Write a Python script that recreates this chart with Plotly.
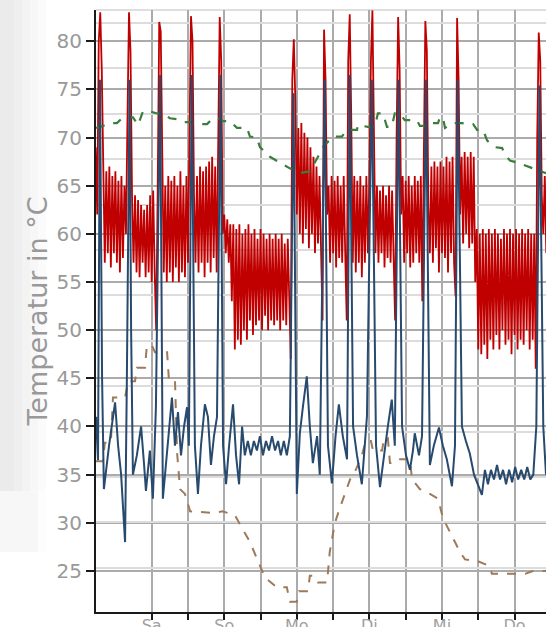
import plotly.graph_objects as go

# ---------------- data ----------------
# red flow temperature, logged every 30 minutes starting at hour 5.5
red_start_h = 5.5
red_interval_h = 0.5
red_temp = [69, 62, 80, 83, 77,
            67, 57, 66.5, 58, 67, 56.5, 66, 58, 66.5, 57, 65.5, 56, 66, 57.5, 65, 60,
            72, 83, 79, 64,
            57, 64, 56, 63.5, 55.5, 63, 57, 62.5, 55.5, 63, 56, 64, 55, 64.5, 56,
            50, 65, 82, 81, 66,
            56, 65, 55, 66, 56, 65.5, 55, 66, 56.5, 65, 55, 66.5, 56, 65, 55.5, 66, 57,
            70, 82.6, 80, 64,
            57, 66, 56, 67, 57, 66.5, 55.5, 67, 57, 67.5, 56, 68, 57.5, 67, 56, 68,
            82.5, 78, 60,
            62, 58, 61.5, 57, 61, 53,
            61, 48, 60.5, 49, 61, 48.5, 60, 50, 60.5, 49, 61, 51, 60, 49.5, 60.5, 50.5, 59.5, 51, 60.5, 50,
            60, 51.5, 59.5, 50, 60, 51, 59.5, 50.5, 60, 51, 59.5, 50, 60, 51, 59, 50.5, 59.5, 52,
            47, 76, 80.2, 74,
            62, 71, 60, 71.5, 59, 70.5, 60.5, 70, 58.5, 69, 60, 68, 58, 67, 59, 66, 58,
            51, 81.2, 76, 62,
            65, 57, 66, 58, 65.5, 56.5, 66, 57.5, 65, 57, 66, 58,
            51, 78, 82.8, 72,
            57, 66, 56, 65.5, 57, 66, 55.5, 65, 57, 66, 58,
            66, 78, 83.2, 68,
            58, 65, 57, 64.5, 58, 65, 56.5, 64, 57.5, 65, 57, 64.5, 58,
            51, 70, 82.5, 77, 62,
            66, 57, 65.5, 58, 66, 56.5, 65, 57, 66, 58, 65.5, 57, 66,
            53, 68, 82.1, 79, 63,
            58, 67, 57, 67.5, 58.5, 67, 56, 67.5, 58, 67, 57.5, 68, 56, 67.5, 58, 68, 57,
            53.5, 82.4, 76, 62,
            68, 59, 68.5, 60, 68, 58.5, 68.5, 59, 68,
            55, 60.5, 48, 60, 47.5, 60.5, 48.5, 60, 47, 60.5, 49, 60, 48, 60.5, 49.5, 60, 48, 59.5, 50, 60.5,
            48.5, 60, 49, 60.5, 47.5, 60, 49.5, 60.5, 48, 60, 49, 60.5, 48.5, 60, 50, 60.5, 48, 60, 49, 60,
            46, 70, 80.9, 78, 64, 60, 66, 58]
red_hours = [red_start_h + red_interval_h * i for i in range(len(red_temp))]

blue_hours = [5.6, 6.25, 6.9, 7.6, 8.2, 9.9, 11.9, 12.9, 13.9, 15.2, 15.8, 16.7, 17.2, 17.8, 19.1, 20.5,
              21.5, 22.1, 23.4, 24.4, 25.4, 26.8, 27.7, 28.7, 29.7, 30.7, 31.7, 32.7, 33.7, 34.7, 35.7,
              36.3, 37.25, 38.3, 39.3, 40.3, 41.6, 42.6, 43.6, 44.6, 45.6, 46.75, 47.6, 48.6, 49.6, 50.9,
              51.9, 52.9, 53.9, 54.8, 55.8, 56.8, 57.8, 58.8, 59.8, 60.8, 61.8, 62.8, 63.8, 64.8, 65.8,
              66.7, 67.7, 68.7, 69.7, 70.9, 72.0, 73.0, 74.0, 75.3, 76.3, 77.3, 78.7, 79.6, 81.2, 82.3,
              83.6, 84.8, 85.9, 87.2, 88.6, 89.5, 90.6, 91.9, 93.5, 95.2, 96.8, 98.2, 99.5, 100.8, 102.1,
              103.4, 104.4, 105.6, 106.8, 108.1, 109.4, 110.4, 111.0, 112.4, 113.4, 114.7, 116.0, 117.3,
              119.0, 120.3, 121.6, 123.3, 124.3, 125.2, 126.6, 127.9, 129.2, 130.6, 131.9, 133.2, 134.2,
              135.2, 136.2, 137.2, 138.2, 139.2, 140.2, 141.2, 142.2, 143.2, 144.2, 145.2, 146.2, 147.2,
              148.2, 149.2, 150.2, 151.2, 152.25, 153.5, 154.4]
blue_temp = [41, 36.5, 76, 45, 33.5, 38, 42.5, 38, 35, 28, 45, 76, 50, 35, 37, 40,
             36, 33.3, 37.5, 32.5, 42, 76.5, 32.5, 36, 40, 43, 38, 41.5, 37, 40, 42,
             38, 76.5, 38, 33, 38, 42.3, 41, 36, 39, 41, 76.5, 38, 34, 38, 42.3,
             37, 34, 40, 37, 38.5, 37, 38.5, 37.5, 39, 37, 38.5, 37.5, 39, 37.5, 38.5,
             37, 38.5, 37, 39, 74.6, 33, 39.3, 42, 45.2, 40, 36.2, 39, 35, 76, 38,
             34.1, 39, 42.3, 39, 36.6, 76.5, 40, 37, 34, 41.1, 76, 38, 33.7, 37, 40,
             42.8, 38, 76, 40, 37, 35.5, 37.5, 39.3, 37, 39, 76, 36, 38,
             39.9, 38, 36.6, 33.8, 38, 76, 40, 38.5, 37.2, 35, 34, 32.9, 35.5,
             34, 35.5, 34.5, 36, 34.5, 35.5, 34, 35.5, 34.2, 35.8, 34.5, 35.5, 34.5,
             35.8, 34.5, 35, 40, 75.4, 40, 35]

brown_hours = [5.6, 7.9, 8.5, 10.5, 11.2, 15.2, 16.2, 18.5, 19.1, 21.8, 22.4, 24.1, 25.1, 29.1, 29.7,
               31.7, 32.4, 33.4, 35.0, 36.7, 44.9, 47.3, 51.5, 53.9, 56.5, 58.8, 61.5, 65.4, 68.7,
               69.7, 72.0, 72.7, 75.7, 76.3, 77.7, 79.0, 82.0, 82.9, 84.6, 86.2, 87.9, 89.6, 91.5,
               93.5, 94.8, 96.5, 97.2, 100.2, 100.8, 102.1, 102.8, 104.4, 106.1, 109.4, 110.1, 112.7,
               116.0, 118.7, 120.3, 122.0, 124.3, 125.9, 127.6, 131.9, 135.8, 136.5, 147.5, 150.1, 154.4]
brown_temp = [36.4, 36.4, 38.3, 38.3, 43, 43, 44.7, 44.7, 46.1, 46.1, 48.4, 48.4, 47.7, 47.7, 44.9,
              44.9, 37.3, 33.5, 33, 31.2, 31, 31.2, 30.8, 29.5, 28, 26.3, 24.3, 23.3, 23.3,
              21.8, 21.8, 22.9, 22.9, 24.5, 24.5, 23.8, 23.8, 27, 30, 31.5, 33, 34.5, 35.5,
              37, 38.5, 38.5, 37.5, 37.5, 38.8, 38.8, 36.2, 36.2, 36.6, 36.6, 34.5, 33.5,
              33, 32.5, 30.5, 29.5, 28, 27, 26.2, 26, 25.5, 24.7, 24.7, 25, 25]

green_hours = [5.6, 7.9, 10.2, 12.5, 14.5, 17.8, 19.5, 21.1, 23.4, 25.8, 27.7, 30.0, 32.4, 34.4, 36.7,
               37.7, 42.3, 44.3, 45.9, 47.6, 49.9, 52.2, 55.5, 56.5, 58.8, 59.8, 63.1, 66.4, 69.7,
               73.0, 76.3, 79.0, 80.6, 83.9, 86.9, 88.6, 91.9, 92.2, 95.5, 97.8, 98.8, 100.5, 101.8,
               103.4, 104.4, 106.1, 107.7, 111.7, 112.7, 115.0, 116.7, 118.7, 119.3, 120.3, 121.0,
               123.6, 126.6, 128.3, 130.3, 131.6, 133.6, 134.9, 137.5, 139.9, 140.9, 142.5, 145.8,
               150.1, 152.4, 154.4]
green_temp = [71, 71.2, 71.5, 71.5, 72.1, 72.1, 71.3, 72.7, 72.7, 72.5, 72.5, 72, 71.9, 71.6, 71.6,
              71.4, 71.4, 72, 72, 71.7, 71.7, 71, 71, 70.1, 70, 69, 68, 67.4, 66.8,
              66.3, 66.5, 68, 69, 70.1, 70.1, 70.8, 70.8, 71.3, 71.1, 71.1, 72.5, 72.5, 71.1,
              71.1, 72.5, 72.5, 71.8, 71.8, 71.2, 71.2, 71.5, 71.5, 72.1, 72.1, 71,
              71.5, 71.5, 71.4, 71.4, 70.8, 70.8, 69.7, 69, 68.9, 68.2, 67.6, 67.3,
              66.8, 66.5, 66.3]

tick_hours = [24, 36, 48, 60, 72, 84, 96, 108, 120, 132, 144]
tick_labels = ["Sa", "", "So", "", "Mo", "", "Di", "", "Mi", "", "Do"]

x_range = [5.59, 154.4]
y_range = [20.74, 83.24]
y2_range = [0.26, 132.86]

# ---------------- figure ----------------
fig = go.Figure()
fig.add_trace(go.Scatter(x=[], y=[], yaxis="y2", showlegend=False, hoverinfo="skip"))
fig.add_trace(go.Scatter(x=red_hours, y=red_temp, mode="lines",
                         line=dict(color="#c00000", width=1.8), showlegend=False))
fig.add_trace(go.Scatter(x=brown_hours, y=brown_temp, mode="lines",
                         line=dict(color="#9c7a5a", width=2, dash="dash"), showlegend=False))
fig.add_trace(go.Scatter(x=green_hours, y=green_temp, mode="lines",
                         line=dict(color="#3b7d3b", width=2.2, dash="dash"), showlegend=False))
fig.add_trace(go.Scatter(x=blue_hours, y=blue_temp, mode="lines",
                         line=dict(color="#284a6e", width=2), showlegend=False))

font_family = "DejaVu Sans, Verdana, sans-serif"

# soft grey shadow on the far left
shadow = [(0, 14, "#ebebeb"), (14, 22, "#efefef"), (22, 30, "#f3f3f3"), (30, 38, "#f7f7f7"), (38, 46, "#fbfbfb")]
shapes = []
for x0, x1, col in shadow:
    shapes.append(dict(type="rect", xref="paper", yref="paper", layer="below",
                       x0=(x0 - 96) / 450, x1=(x1 - 96) / 450, y0=0.2, y1=1.02,
                       fillcolor=col, line=dict(width=0)))
    shapes.append(dict(type="rect", xref="paper", yref="paper", layer="below",
                       x0=(x0 - 96) / 450, x1=(x1 - 96) / 450, y0=0.1, y1=0.2,
                       fillcolor="#f7f7f7" if col != "#fbfbfb" else "#fdfdfd", line=dict(width=0)))
shapes.append(dict(type="line", xref="paper", yref="paper", x0=0, x1=1, y0=1, y1=1,
                   line=dict(color="#d4d4d4", width=1.5), layer="below"))

fig.update_layout(
    width=546, height=627,
    margin=dict(l=96, r=0, t=10, b=15),
    paper_bgcolor="white", plot_bgcolor="white",
    font=dict(family=font_family, color="#999999"),
    shapes=shapes,
    xaxis=dict(range=x_range, tickvals=tick_hours, ticktext=tick_labels,
               showline=True, linecolor="#1a1a1a", linewidth=2,
               ticks="outside", ticklen=6, tickwidth=2, tickcolor="#1a1a1a",
               tickfont=dict(size=16, color="#a0a0a0"), ticklabelstandoff=-8,
               showgrid=True, gridcolor="#ababab", gridwidth=1.5,
               zeroline=False, automargin=False),
    yaxis=dict(range=y_range, tick0=0, dtick=5,
               showline=True, linecolor="#1a1a1a", linewidth=2,
               ticks="outside", ticklen=8, tickwidth=2, tickcolor="#1a1a1a",
               tickfont=dict(size=20, color="#999999"),
               title=dict(text="Temperatur in °C", font=dict(size=27, color="#999999"), standoff=1),
               showgrid=True, gridcolor="#ababab", gridwidth=1.5,
               zeroline=False, automargin=False),
    yaxis2=dict(range=y2_range, overlaying="y", side="right", dtick=10, tick0=0,
                showgrid=True, gridcolor="#dcdcdc", gridwidth=1.5,
                showticklabels=False, showline=False, zeroline=False, ticks=""),
)

fig.write_html("out.html", config={"displayModeBar": False},
               post_script="document.body.style.margin='0px';")
